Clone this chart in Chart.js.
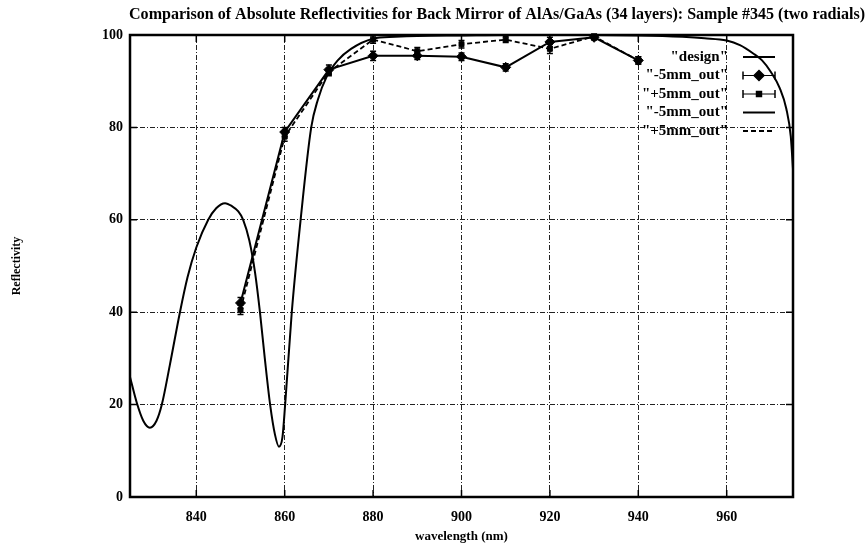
<!DOCTYPE html>
<html>
<head>
<meta charset="utf-8">
<script src="https://cdn.jsdelivr.net/npm/chart.js@4.4.1/dist/chart.umd.min.js"></script>
<style>
  html, body { margin: 0; padding: 0; background: #fff; }
  #wrap { width: 868px; height: 548px; }
</style>
</head>
<body>
<div id="wrap"><canvas id="c" width="868" height="548"></canvas></div>
<script>
// ---- chart data ----
const titleText = 'Comparison of Absolute Reflectivities for Back Mirror of AlAs/GaAs (34 layers): Sample #345 (two radials)';
const xTitle = 'wavelength (nm)';
const yTitle = 'Reflectivity';
const xTicks = [840, 860, 880, 900, 920, 940, 960];
const yTicks = [0, 20, 40, 60, 80, 100];
const legendLabels = ['"design"', '"-5mm_out"', '"+5mm_out"', '"-5mm_out"', '"+5mm_out"'];

// theoretical (design) reflectivity curve
const designWavelength = [825, 826.5, 828, 829.5, 831, 832.2, 834, 836.3, 838, 840, 842.7, 844.5, 846.5, 848, 849.5, 850.6, 852, 853.3, 854.4, 855.5, 856.7, 857.8, 858.7, 859.5, 860.1, 861.6, 863.6, 866, 867.5, 869.5, 872, 875, 880, 885, 890, 900, 910, 920, 930, 940, 950, 955, 960, 963, 966, 968, 970, 972, 973.5, 974.5, 975];
const designReflectivity = [26, 20.5, 16.5, 15, 16.5, 20, 28.5, 40, 47.5, 54, 60, 62.5, 63.6, 63, 61.8, 60, 55.5, 48.5, 40, 30, 20, 13.5, 10.9, 13, 20, 40, 60, 80, 86, 91, 94.5, 97, 99.2, 99.6, 99.8, 99.9, 100, 100, 100, 99.9, 99.6, 99.3, 98.8, 97.8, 96, 94.5, 92, 88.5, 84, 78, 71];

// measured points, two radial positions
const measuredWavelength = [850, 860, 870, 880, 890, 900, 910, 920, 930, 940];
const minus5Reflectivity = [42, 79, 92.5, 95.5, 95.5, 95.3, 93, 98.5, 99.5, 94.5];
const minus5Error = [1.2, 1.0, 1.0, 1.0, 0.8, 0.8, 0.8, 1.0, 0.6, 0.8];
const plus5Reflectivity = [40.5, 78, 92, 99, 96.5, 98, 99, 97, 99.7, 94.5];
const plus5Error = [1.0, 1.0, 0.8, 0.8, 0.8, 0.8, 0.6, 1.0, 0.5, 0.8];

const pairs = (xs, ys) => xs.map((x, i) => ({ x, y: ys[i] }));

const SERIF = '"Liberation Serif", "DejaVu Serif", serif';
const INK = '#000';

// ---- plugins ----
const titlePlugin = {
  id: 'topTitle',
  afterDraw(chart) {
    const ctx = chart.ctx;
    ctx.save();
    let size = 14;
    ctx.font = `bold ${size}px ${SERIF}`;
    const w = ctx.measureText(titleText).width;
    size = size * 737 / w;
    ctx.font = `bold ${size}px ${SERIF}`;
    ctx.fillStyle = INK;
    ctx.textAlign = 'center';
    ctx.textBaseline = 'middle';
    ctx.fillText(titleText, 497, 15);
    ctx.restore();
  }
};

const errorBars = {
  id: 'errorBars',
  afterDatasetsDraw(chart) {
    const { ctx, scales: { x, y } } = chart;
    chart.data.datasets.forEach((ds, i) => {
      if (!ds.errors || !chart.isDatasetVisible(i)) return;
      ctx.save();
      ctx.strokeStyle = INK;
      ctx.lineWidth = 1.5;
      ds.data.forEach((p, j) => {
        const e = ds.errors[j];
        if (p.y == null || !e) return;
        const px = x.getPixelForValue(p.x);
        const t = y.getPixelForValue(p.y + e);
        const b = y.getPixelForValue(p.y - e);
        ctx.beginPath();
        ctx.moveTo(px, t); ctx.lineTo(px, b);
        ctx.moveTo(px - 3, t); ctx.lineTo(px + 3, t);
        ctx.moveTo(px - 3, b); ctx.lineTo(px + 3, b);
        ctx.stroke();
      });
      ctx.restore();
    });
  }
};

const framePlugin = {
  id: 'frame',
  afterDatasetsDraw(chart) {
    const { ctx, chartArea: a, scales: { x, y } } = chart;
    ctx.save();
    ctx.strokeStyle = INK;
    ctx.lineWidth = 1.5;
    ctx.beginPath();
    // short inward tick marks on all four sides
    xTicks.forEach(v => {
      const px = x.getPixelForValue(v);
      ctx.moveTo(px, a.bottom); ctx.lineTo(px, a.bottom - 7);
      ctx.moveTo(px, a.top); ctx.lineTo(px, a.top + 7);
    });
    yTicks.forEach(v => {
      const py = y.getPixelForValue(v);
      ctx.moveTo(a.left, py); ctx.lineTo(a.left + 7, py);
      ctx.moveTo(a.right, py); ctx.lineTo(a.right - 7, py);
    });
    ctx.stroke();
    ctx.lineWidth = 2.5;
    ctx.strokeRect(a.left, a.top, a.right - a.left, a.bottom - a.top);
    ctx.restore();
  }
};

const legendPlugin = {
  id: 'keyBox',
  afterDraw(chart) {
    const ctx = chart.ctx;
    const ds = chart.data.datasets;
    ctx.save();
    ctx.font = `bold 15px ${SERIF}`;
    ctx.fillStyle = INK;
    ctx.strokeStyle = INK;
    ctx.textAlign = 'right';
    ctx.textBaseline = 'middle';
    const textRight = 728, x0 = 743, x1 = 775;
    legendLabels.forEach((label, i) => {
      const yy = 57 + i * 18.5;
      ctx.fillText(label, textRight, yy);
      const d = ds[i];
      ctx.save();
      ctx.lineWidth = d.borderWidth || 1.5;
      ctx.setLineDash(d.borderDash || []);
      ctx.beginPath();
      ctx.moveTo(x0, yy); ctx.lineTo(x1, yy);
      ctx.stroke();
      ctx.setLineDash([]);
      if (d.errors) {
        ctx.lineWidth = 1.5;
        ctx.beginPath();
        ctx.moveTo(x0, yy - 4); ctx.lineTo(x0, yy + 4);
        ctx.moveTo(x1, yy - 4); ctx.lineTo(x1, yy + 4);
        ctx.stroke();
        Chart.helpers.drawPoint(ctx, {
          pointStyle: d.pointStyle, radius: d.pointRadius, borderWidth: 1, rotation: 0
        }, (x0 + x1) / 2, yy);
      }
      ctx.restore();
    });
    ctx.restore();
  }
};

// ---- chart ----
const gridCommon = {
  color: '#222',
  lineWidth: 1,
  drawTicks: false
};

new Chart(document.getElementById('c'), {
  type: 'scatter',
  data: {
    datasets: [
      {
        label: legendLabels[0],
        data: pairs(designWavelength, designReflectivity),
        showLine: true,
        borderColor: INK,
        borderWidth: 2,
        pointRadius: 0,
        cubicInterpolationMode: 'monotone'
      },
      {
        label: legendLabels[1],
        data: pairs(measuredWavelength, minus5Reflectivity),
        errors: minus5Error,
        showLine: false,
        pointStyle: 'rectRot',
        pointRadius: 5,
        backgroundColor: INK,
        borderColor: INK,
        borderWidth: 1
      },
      {
        label: legendLabels[2],
        data: pairs(measuredWavelength, plus5Reflectivity),
        errors: plus5Error,
        showLine: false,
        pointStyle: 'rect',
        pointRadius: 3.5,
        backgroundColor: INK,
        borderColor: INK,
        borderWidth: 1
      },
      {
        label: legendLabels[3],
        data: pairs(measuredWavelength, minus5Reflectivity),
        showLine: true,
        borderColor: INK,
        borderWidth: 2,
        pointRadius: 0,
        tension: 0
      },
      {
        label: legendLabels[4],
        data: pairs(measuredWavelength, plus5Reflectivity),
        showLine: true,
        borderColor: INK,
        borderWidth: 1.8,
        borderDash: [5, 3],
        pointRadius: 0,
        tension: 0
      }
    ]
  },
  options: {
    responsive: false,
    animation: false,
    events: [],
    layout: { padding: { top: 35, right: 75, bottom: 0, left: 0 } },
    plugins: {
      legend: { display: false },
      title: { display: false },
      tooltip: { enabled: false }
    },
    scales: {
      x: {
        type: 'linear',
        min: 825,
        max: 975,
        afterBuildTicks: s => { s.ticks = xTicks.map(v => ({ value: v })); },
        afterFit: s => { s.height = 51; },
        grid: gridCommon,
        border: { display: false, dash: [5, 2, 1, 2] },
        ticks: {
          color: INK,
          padding: 12,
          maxRotation: 0,
          font: { family: SERIF, size: 14, weight: 'bold' }
        },
        title: {
          display: true,
          text: xTitle,
          color: INK,
          padding: { top: 4, bottom: 4 },
          font: { family: SERIF, size: 13, weight: 'bold' }
        }
      },
      y: {
        type: 'linear',
        min: 0,
        max: 100,
        afterBuildTicks: s => { s.ticks = yTicks.map(v => ({ value: v })); },
        afterFit: s => { s.width = 130; },
        grid: gridCommon,
        border: { display: false, dash: [5, 2, 1, 2] },
        ticks: {
          color: INK,
          padding: 7,
          font: { family: SERIF, size: 14, weight: 'bold' }
        },
        title: {
          display: true,
          text: yTitle,
          color: INK,
          padding: { top: 10, bottom: 10 },
          font: { family: SERIF, size: 12, weight: 'bold' }
        }
      }
    }
  },
  plugins: [errorBars, framePlugin, legendPlugin, titlePlugin]
});
</script>
</body>
</html>
